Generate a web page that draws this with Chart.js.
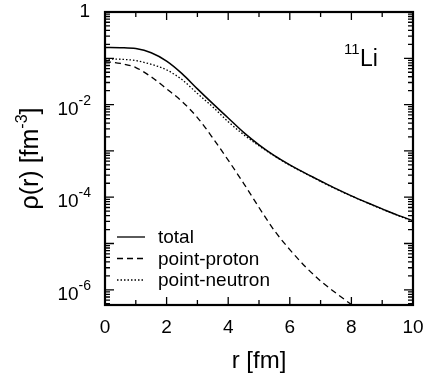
<!DOCTYPE html>
<html>
<head>
<meta charset="utf-8">
<script src="https://cdn.jsdelivr.net/npm/chart.js@4/dist/chart.umd.min.js"></script>
<style>
  html, body { margin: 0; padding: 0; background: #fff; }
</style>
</head>
<body>
<canvas id="chart" width="430" height="377"></canvas>
<script>
// r in fm
const radius = [0, 0.5, 1, 1.5, 2, 2.5, 3, 3.5, 4, 4.5, 5, 5.5, 6, 6.5, 7, 7.5, 8, 8.5, 9, 9.5, 10];
// densities in fm^-3
const totalDensity = [0.172, 0.170, 0.162, 0.132, 0.0871, 0.0468, 0.0219, 0.0105, 5.13e-3, 2.51e-3, 1.35e-3,
  7.9e-4, 5.0e-4, 3.3e-4, 2.24e-4, 1.53e-4, 1.07e-4, 7.7e-5, 5.6e-5, 4.1e-5, 3.1e-5];
const protonDensity = [0.0851, 0.0776, 0.0631, 0.0398, 0.0219, 0.0117, 5.25e-3, 1.9e-3, 6.3e-4, 2.0e-4, 6.0e-5,
  1.9e-5, 7.4e-6, 3.2e-6, 1.55e-6, 8.5e-7, 4.8e-7, 2.8e-7, 1.66e-7, 1.0e-7, 6.3e-8];
const neutronDensity = [0.0966, 0.0955, 0.0891, 0.0741, 0.0562, 0.0347, 0.0174, 8.9e-3, 4.27e-3, 2.25e-3, 1.29e-3,
  7.75e-4, 4.9e-4, 3.27e-4, 2.2e-4, 1.5e-4, 1.06e-4, 7.6e-5, 5.5e-5, 4.05e-5, 3.0e-5];

const xTickValues = [0, 2, 4, 6, 8, 10];
const yLabelExponents = [0, -2, -4, -6];
const seriesNames = ["total", "point-proton", "point-neutron"];

const FONT = "'Liberation Sans', Arial, Helvetica, sans-serif";

function points(vals) {
  return radius.map((r, i) => ({ x: r, y: vals[i] }));
}

const dashStyles = [[], [6, 4], [1.5, 2]];

const frameDecor = {
  id: "frameDecor",
  afterDraw(chart) {
    const ctx = chart.ctx;
    const a = chart.chartArea;
    const xs = chart.scales.x, ys = chart.scales.y;
    ctx.save();
    ctx.strokeStyle = "#000";
    ctx.fillStyle = "#000";

    // inward tick marks, mirrored on all four sides
    ctx.lineWidth = 1.3;
    ctx.beginPath();
    for (let v = 1; v < 10; v++) {
      const px = xs.getPixelForValue(v);
      const len = v % 2 === 0 ? 8 : 5;
      ctx.moveTo(px, a.bottom); ctx.lineTo(px, a.bottom - len);
      ctx.moveTo(px, a.top); ctx.lineTo(px, a.top + len);
    }
    for (let e = -7; e <= 0; e++) {
      for (let m = 1; m <= 9; m++) {
        const v = m * Math.pow(10, e);
        if (v < ys.min || v > ys.max) continue;
        const py = ys.getPixelForValue(v);
        const len = m === 1 ? 9 : 5;
        ctx.moveTo(a.left, py); ctx.lineTo(a.left + len, py);
        ctx.moveTo(a.right, py); ctx.lineTo(a.right - len, py);
      }
    }
    ctx.stroke();

    // frame
    ctx.lineWidth = 2.2;
    ctx.strokeRect(a.left, a.top, a.right - a.left, a.bottom - a.top);

    // x tick labels
    ctx.font = "19px " + FONT;
    ctx.textAlign = "center";
    ctx.textBaseline = "alphabetic";
    xTickValues.forEach(v => {
      ctx.fillText(String(v), xs.getPixelForValue(v), a.bottom + 28);
    });

    // y tick labels with superscript exponents
    yLabelExponents.forEach(e => {
      const py = ys.getPixelForValue(Math.pow(10, e));
      if (e === 0) {
        ctx.font = "19px " + FONT;
        ctx.textAlign = "right";
        ctx.textBaseline = "middle";
        ctx.fillText("1", a.left - 15, py);
        return;
      }
      ctx.textBaseline = "alphabetic";
      ctx.font = "14px " + FONT;
      ctx.textAlign = "left";
      const expText = String(e);
      const expW = ctx.measureText(expText).width;
      const expX = a.left - 14 - expW;
      ctx.fillText(expText, expX, py);
      ctx.font = "19px " + FONT;
      ctx.textAlign = "right";
      ctx.fillText("10", expX, py + 10);
    });

    // x axis title
    ctx.font = "24px " + FONT;
    ctx.textAlign = "center";
    ctx.textBaseline = "alphabetic";
    ctx.fillText("r [fm]", (a.left + a.right) / 2, a.bottom + 63);

    // y axis title, rotated, with superscript
    ctx.save();
    ctx.translate(38, (a.top + a.bottom) / 2);
    ctx.rotate(-Math.PI / 2);
    ctx.font = "25px " + FONT;
    const t1 = "\u03c1(r) [fm", t3 = "]";
    const w1 = ctx.measureText(t1).width, w3 = ctx.measureText(t3).width;
    ctx.font = "16px " + FONT;
    const t2 = "-3";
    const w2 = ctx.measureText(t2).width;
    let x0 = -(w1 + w2 + w3) / 2;
    ctx.textAlign = "left";
    ctx.font = "25px " + FONT;
    ctx.fillText(t1, x0, 0);
    ctx.font = "16px " + FONT;
    ctx.fillText(t2, x0 + w1, -11);
    ctx.font = "25px " + FONT;
    ctx.fillText(t3, x0 + w1 + w2, 0);
    ctx.restore();

    // nucleus label
    ctx.textAlign = "left";
    ctx.font = "15px " + FONT;
    ctx.fillText("11", 344, 54);
    ctx.font = "23px " + FONT;
    ctx.fillText("Li", 360, 66);

    // legend
    ctx.lineWidth = 1.3;
    seriesNames.forEach((name, i) => {
      const ly = 237 + i * 21.5;
      ctx.setLineDash(dashStyles[i]);
      ctx.beginPath();
      ctx.moveTo(117, ly); ctx.lineTo(145, ly);
      ctx.stroke();
      ctx.setLineDash([]);
      ctx.font = "19px " + FONT;
      ctx.textBaseline = "middle";
      ctx.fillText(name, 158, ly + 1);
    });
    ctx.restore();
  }
};

const ctx = document.getElementById("chart").getContext("2d");
new Chart(ctx, {
  type: "line",
  data: {
    datasets: [
      { label: seriesNames[0], data: points(totalDensity), borderColor: "#000", borderWidth: 1.5, borderDash: dashStyles[0] },
      { label: seriesNames[1], data: points(protonDensity), borderColor: "#000", borderWidth: 1.3, borderDash: dashStyles[1] },
      { label: seriesNames[2], data: points(neutronDensity), borderColor: "#000", borderWidth: 1.3, borderDash: dashStyles[2] }
    ]
  },
  options: {
    responsive: false,
    animation: false,
    devicePixelRatio: 1,
    layout: { padding: { left: 105, right: 17, top: 12, bottom: 72 } },
    elements: {
      point: { radius: 0 },
      line: { cubicInterpolationMode: "monotone", fill: false }
    },
    scales: {
      x: { type: "linear", min: 0, max: 10, display: false },
      y: { type: "logarithmic", min: 4.7e-7, max: 1, display: false }
    },
    plugins: {
      legend: { display: false },
      tooltip: { enabled: false }
    }
  },
  plugins: [frameDecor]
});
</script>
</body>
</html>
